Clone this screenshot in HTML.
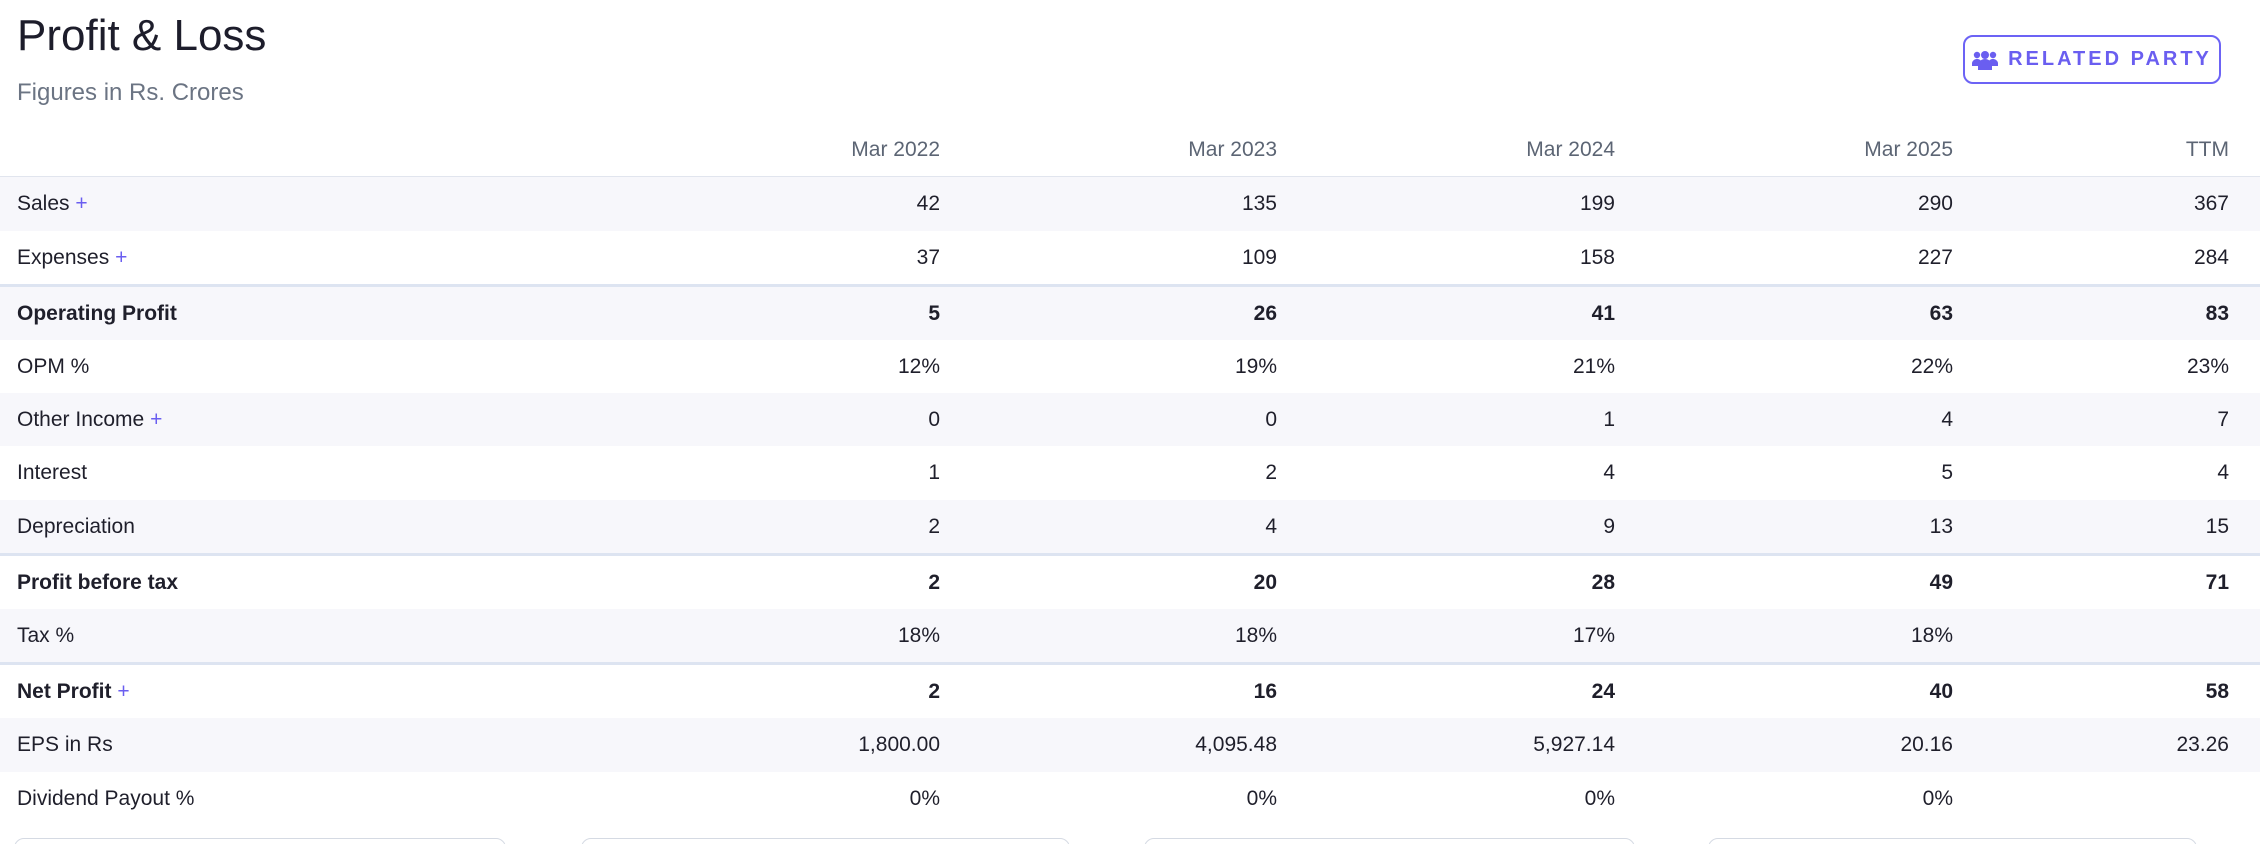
<!DOCTYPE html>
<html style="margin:0;height:844px;overflow:hidden"><head><meta charset="utf-8"><style>
body{margin:0;width:2260px;height:844px;overflow:hidden;background:#fff;font-family:"Liberation Sans",sans-serif;color:#1f1f2b}
#w{position:relative;width:2260px;height:844px;overflow:hidden}
.t{position:absolute;left:17px;top:11px;font-size:44px;color:#1d1d2b}
.s{position:absolute;left:17px;top:79px;font-size:24px;color:#6b7483}
.btn{position:absolute;left:1963px;top:35px;width:258px;height:49px;border:2px solid #6c63f5;border-radius:10px;box-sizing:border-box;color:#6a5ef0;font-size:20px;font-weight:bold;letter-spacing:3px;display:flex;align-items:center;justify-content:center;gap:10px}
.row{position:absolute;left:0;width:2260px;font-size:21px}
.row span{position:absolute;top:50%;transform:translateY(-50%)}
.l{left:17px}
.v{transform:translateY(-50%)!important;text-align:right}
.sh{background:#f7f7fb}
.b{font-weight:bold}
.bt{border-top:3px solid #dde4f1}
.p{color:#6a5ef0}
.card{position:absolute;top:838px;height:40px;border:1.5px solid #d5dae3;border-radius:10px}
</style></head><body><div id="w">
<div class="t">Profit &amp; Loss</div>
<div class="s">Figures in Rs. Crores</div>
<div class="btn"><svg width="26" height="20" viewBox="0 0 26 20"><circle cx="5" cy="5" r="3.2" fill="#6a5ef0"/><circle cx="21" cy="5" r="3.2" fill="#6a5ef0"/><circle cx="13" cy="5" r="4" fill="#6a5ef0"/><path d="M0 15a5 5 0 0 1 10-2v3H0z M16 13a5 5 0 0 1 10 2v1H16z" fill="#6a5ef0"/><path d="M6 20v-4a7 7 0 0 1 14 0v4z" fill="#6a5ef0"/></svg>RELATED PARTY</div>
<div id="tb"></div>
<div class="card" style="left:14px;width:490px"></div>
<div class="card" style="left:581px;width:487px"></div>
<div class="card" style="left:1144px;width:489px"></div>
<div class="card" style="left:1708px;width:487px"></div>
</div>
<script>
const cols=[940,1277,1615,1953,2229];
const rows=[
["",["Mar 2022","Mar 2023","Mar 2024","Mar 2025","TTM"],124,177,"h"],
["Sales +",["42","135","199","290","367"],177,231,"sh"],
["Expenses +",["37","109","158","227","284"],231,284,""],
["Operating Profit",["5","26","41","63","83"],284,340,"sh b bt"],
["OPM %",["12%","19%","21%","22%","23%"],340,393,""],
["Other Income +",["0","0","1","4","7"],393,446,"sh"],
["Interest",["1","2","4","5","4"],446,500,""],
["Depreciation",["2","4","9","13","15"],500,553,"sh"],
["Profit before tax",["2","20","28","49","71"],553,609,"b bt"],
["Tax %",["18%","18%","17%","18%",""],609,662,"sh"],
["Net Profit +",["2","16","24","40","58"],662,718,"b bt"],
["EPS in Rs",["1,800.00","4,095.48","5,927.14","20.16","23.26"],718,772,"sh"],
["Dividend Payout %",["0%","0%","0%","0%",""],772,826,""]];
let h="";
for(const r of rows){
 let lab=r[0].replace(" +",' <span class="p" style="position:static;transform:none;font-weight:normal">+</span>');
 let st=r[4]=="h"?'border-bottom:1.5px solid #e1e5ee;color:#5c6574':'';
 h+=`<div class="row ${r[4]}" style="top:${r[2]}px;height:${r[3]-r[2]}px;box-sizing:border-box;${st}"><span class="l">${lab}</span>`;
 r[1].forEach((v,i)=>{h+=`<span class="v" style="right:${2260-cols[i]}px">${v}</span>`});
 h+="</div>";
}
document.getElementById("tb").innerHTML=h;
</script>
</body></html>
